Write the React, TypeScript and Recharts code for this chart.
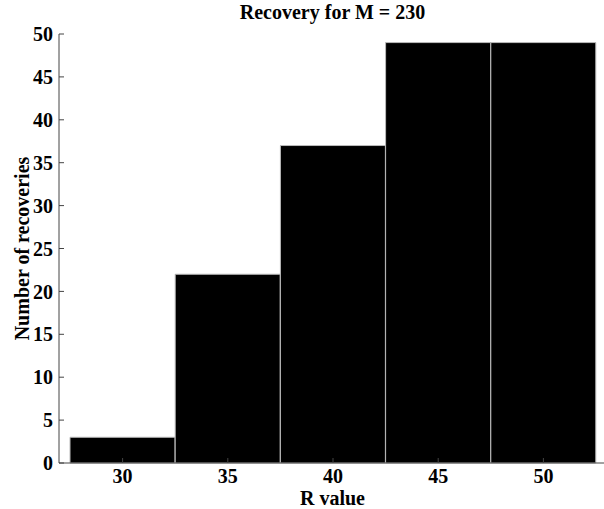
import React from 'react'
import { BarChart, Bar, XAxis, YAxis, Customized } from 'recharts'

const rValues = [30, 35, 40, 45, 50]
const recoveries = [3, 22, 37, 49, 49]
const yTicks = [0, 5, 10, 15, 20, 25, 30, 35, 40, 45, 50]

const data = rValues.map((r, i) => ({ r, count: recoveries[i] }))

const FONT = '"Liberation Serif", "Times New Roman", serif'
const tickStyle = { fontFamily: FONT, fontWeight: 700, fontSize: 20, fill: '#000' }
const AXIS = '#444'
const PAD = { left: 11, right: 10 }

// title and axis titles, MATLAB-style
const Texts = () => (
  <g style={{ fontFamily: FONT, fontWeight: 700, fontSize: 20 }} fill="#000">
    <text x={332.5} y={19} textAnchor="middle">Recovery for M = 230</text>
    <text x={332.5} y={505} textAnchor="middle">R value</text>
    <text transform="translate(29, 248.5) rotate(-90)" textAnchor="middle">Number of recoveries</text>
  </g>
)

export default function App() {
  return (
    <div style={{ position: 'fixed', left: 0, top: 0, width: 604, height: 509, overflow: 'hidden', background: '#fff' }}>
      <BarChart
        width={620}
        height={509}
        data={data}
        margin={{ top: 34, right: 14, bottom: 0, left: 0 }}
        barCategoryGap={0}
        barGap={0}
      >
        {/* negative tickSize -> tick marks point into the plot */}
        <XAxis dataKey="r" height={46} padding={PAD} stroke={AXIS} tickSize={-5} tickMargin={11} tick={tickStyle} interval={0} />
        <YAxis domain={[0, 50]} ticks={yTicks} width={59} stroke={AXIS} tickSize={-5} tickMargin={11} tick={tickStyle} interval={0} />
        <XAxis xAxisId="top" dataKey="r" orientation="top" height={0} padding={PAD} stroke={AXIS} tickSize={-5} tickFormatter={() => ''} interval={0} />
        <YAxis yAxisId="right" orientation="right" domain={[0, 50]} ticks={yTicks} width={0} stroke={AXIS} tickSize={-5} tickFormatter={() => ''} interval={0} />
        <Bar dataKey="count" fill="#000" stroke="#bbbbbb" strokeWidth={1} isAnimationActive={false} />
        {/* invisible copy so the top / right axes get a domain */}
        <Bar xAxisId="top" yAxisId="right" dataKey="count" fill="none" stroke="none" isAnimationActive={false} />
        <Customized component={Texts} />
      </BarChart>
    </div>
  )
}
